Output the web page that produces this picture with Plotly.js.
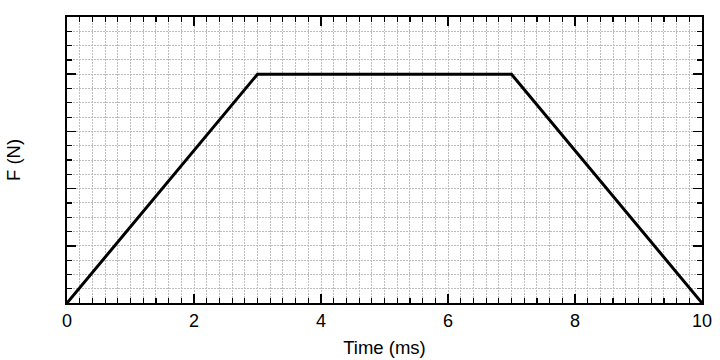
<!DOCTYPE html>
<html>
<head>
<meta charset="utf-8">
<script src="https://cdn.plot.ly/plotly-3.0.1.min.js"></script>
<style>html,body{margin:0;padding:0;background:#fff;}#chart{width:720px;height:360px;}</style>
</head>
<body>
<div id="chart"></div>
<script>
const timeMs = [0, 3, 7, 10];
const forceN = [0, 4, 4, 0];
const xTickVals = [0, 2, 4, 6, 8, 10];
const xTickText = ['0', '2', '4', '6', '8', '10'];

const font = {family: 'Liberation Sans, Arial, sans-serif', color: '#000'};
const gridDash = '2px,1px';
const gridColor = '#bdbdbd';

const traces = [{
  x: timeMs, y: forceN, type: 'scatter', mode: 'lines',
  line: {color: '#000', width: 3}, hoverinfo: 'skip', showlegend: false
}];

const layout = {
  width: 720, height: 360,
  margin: {l: 67, r: 18, t: 17, b: 57},
  paper_bgcolor: '#fff', plot_bgcolor: '#fff',
  font: font,
  showlegend: false,
  xaxis: {
    range: [0, 10], tickmode: 'array', tickvals: xTickVals, ticktext: xTickText,
    ticks: 'inside', ticklen: 9, tickwidth: 1.5, tickcolor: '#000',
    showline: true, linecolor: '#000', linewidth: 2, mirror: 'ticks',
    showgrid: true, gridcolor: gridColor, griddash: gridDash, gridwidth: 1,
    zeroline: false,
    tickfont: {size: 18, family: font.family, color: '#000'},
    title: {text: 'Time (ms)', font: {size: 18.5, family: font.family, color: '#000'}, standoff: 11},
    minor: {dtick: 0.2, tick0: 0, ticks: 'inside', ticklen: 5, tickwidth: 1.2, tickcolor: '#000',
            showgrid: true, gridcolor: gridColor, griddash: gridDash, gridwidth: 1}
  },
  xaxis2: {
    overlaying: 'x', matches: 'x', range: [0, 10], dtick: 1, tick0: 0,
    ticks: 'inside', ticklen: 7, tickwidth: 1.3, tickcolor: '#000',
    showticklabels: false, showgrid: false, zeroline: false,
    showline: false, mirror: 'ticks', side: 'bottom'
  },
  yaxis: {
    range: [0, 5], dtick: 1, tick0: 0,
    ticks: 'inside', ticklen: 9, tickwidth: 1.5, tickcolor: '#000',
    showticklabels: false,
    showline: true, linecolor: '#000', linewidth: 2, mirror: 'ticks',
    showgrid: true, gridcolor: gridColor, griddash: gridDash, gridwidth: 1,
    zeroline: false,
    title: {text: 'F (N)', font: {size: 18.5, family: font.family, color: '#000'}, standoff: 40},
    minor: {dtick: 0.25, tick0: 0, ticks: 'inside', ticklen: 5, tickwidth: 1.2, tickcolor: '#000',
            showgrid: true, gridcolor: gridColor, griddash: gridDash, gridwidth: 1}
  }
};

Plotly.newPlot('chart', traces, layout, {displayModeBar: false, staticPlot: true});
</script>
</body>
</html>
